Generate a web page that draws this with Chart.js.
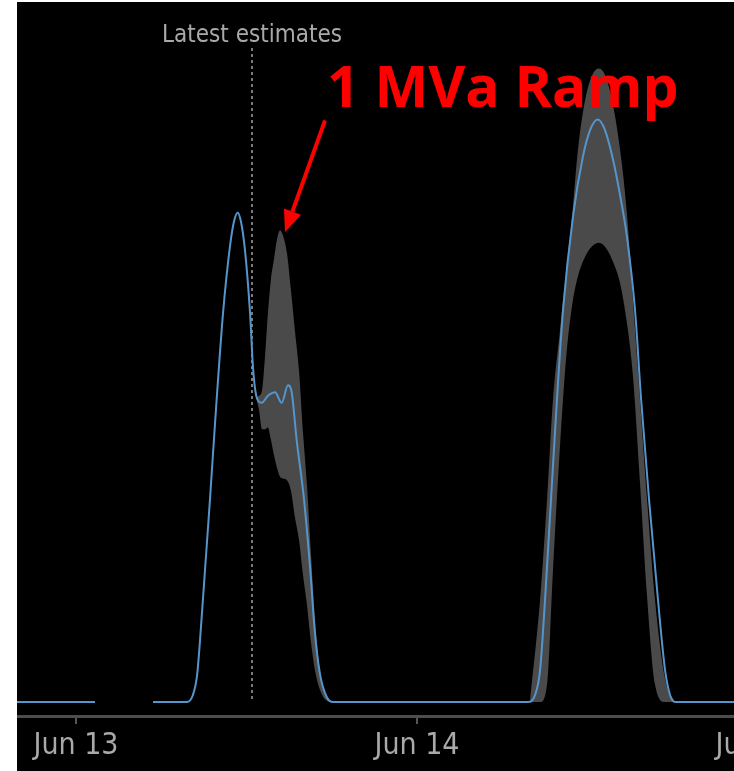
<!DOCTYPE html>
<html>
<head>
<meta charset="utf-8">
<script src="https://cdn.jsdelivr.net/npm/chart.js@4.4.1/dist/chart.umd.min.js"></script>
<style>
  html, body { margin: 0; padding: 0; background: #fff; width: 734px; height: 771px; overflow: hidden; }
  #wrap { position: absolute; left: 17px; top: 2px; width: 800px; height: 769px; background: #000; }
</style>
</head>
<body>
<div id="wrap"><canvas id="chart" width="800" height="769"></canvas></div>
<script>
// hours since Jun 13 00:00, values in MVA
const lineHours = [-4.15, 1.34, 3.4, 5.42, 7.81, 8.23, 8.52, 8.73, 9.08, 9.43, 9.85, 10.35, 10.84, 11.12, 11.38, 11.61, 11.89, 12.25, 12.46, 12.72, 13.07, 13.51, 14.01, 14.48, 14.92, 15.18, 15.53, 16.05, 16.47, 16.82, 17.17, 17.64, 18.09, 31.81, 32.31, 32.66, 33.01, 33.43, 33.85, 34.28, 34.98, 35.68, 36.18, 36.72, 37.23, 37.80, 38.29, 38.78, 39.34, 39.77, 40.33, 40.96, 41.46, 41.81, 42.16, 52.15];
const lineValues = [0, 0, null, 0, 0, 0.04, 0.15, 0.35, 0.75, 1.15, 1.66, 2.21, 2.59, 2.73, 2.78, 2.73, 2.57, 2.21, 1.90, 1.73, 1.70, 1.74, 1.76, 1.70, 1.80, 1.76, 1.49, 1.15, 0.77, 0.39, 0.16, 0.03, 0, 0, 0.04, 0.18, 0.58, 1.15, 1.72, 2.23, 2.76, 3.10, 3.25, 3.31, 3.25, 3.08, 2.88, 2.64, 2.23, 1.72, 1.15, 0.58, 0.18, 0.04, 0, 0];

const band1Hours = [12.67, 12.88, 13.09, 13.30, 13.51, 13.72, 13.94, 14.15, 14.36, 14.57, 14.85, 15.13, 15.41, 15.70, 15.98, 16.26, 16.54, 16.82, 17.17, 17.60, 18.09];
const band1Upper = [1.73, 1.74, 1.77, 1.96, 2.21, 2.40, 2.52, 2.63, 2.68, 2.65, 2.55, 2.34, 2.11, 1.88, 1.53, 1.23, 0.84, 0.47, 0.18, 0.03, 0];
const band1Lower = [1.73, 1.66, 1.55, 1.55, 1.56, 1.49, 1.40, 1.33, 1.28, 1.27, 1.26, 1.20, 1.05, 0.92, 0.72, 0.55, 0.34, 0.18, 0.07, 0.01, 0];

const band2Hours = [31.95, 32.66, 33.15, 33.57, 34.06, 34.49, 34.91, 35.33, 35.83, 36.32, 36.81, 37.30, 37.80, 38.29, 38.78, 39.20, 39.69, 40.19, 40.75, 41.46, 42.16];
const band2Upper = [0, 0.58, 1.15, 1.72, 2.11, 2.45, 2.76, 3.14, 3.42, 3.56, 3.60, 3.55, 3.39, 3.14, 2.77, 2.28, 1.72, 1.15, 0.58, 0.13, 0];
const band2Lower = [0, 0, 0.10, 0.75, 1.45, 1.95, 2.25, 2.42, 2.53, 2.59, 2.61, 2.58, 2.50, 2.38, 2.15, 1.85, 1.25, 0.60, 0.10, 0, 0];

const tickHours = [0, 24, 48];
const tickLabels = ["Jun 13", "Jun 14", "Jun 15"];
const latestHour = 12.42;
const latestLabel = "Latest estimates";
const rampLabel = "1 MVa Ramp";

const narrow = "'Liberation Sans Narrow', 'DejaVu Sans Condensed', 'Roboto', sans-serif";

function pts(xs, ys) {
  return xs.map((x, i) => ({ x: x, y: ys[i] }));
}

const annotations = {
  id: "annotations",
  beforeDatasetsDraw(chart) {
    const ctx = chart.ctx;
    const x = Math.round(chart.scales.x.getPixelForValue(latestHour));
    const yBottom = chart.scales.y.getPixelForValue(0);
    ctx.save();
    ctx.strokeStyle = "#7a7a7a";
    ctx.lineWidth = 2;
    ctx.setLineDash([3, 3]);
    ctx.beginPath();
    ctx.moveTo(x, chart.chartArea.top);
    ctx.lineTo(x, yBottom);
    ctx.stroke();
    ctx.setLineDash([]);
    ctx.fillStyle = "#a9a9a9";
    ctx.font = "24px " + narrow;
    ctx.textAlign = "center";
    ctx.textBaseline = "alphabetic";
    ctx.fillText(latestLabel, x, chart.chartArea.top - 6);
    ctx.restore();
  },
  afterDraw(chart) {
    const ctx = chart.ctx;
    // arrow points at the top of the first uncertainty band
    const peak = band1Upper.indexOf(Math.max(...band1Upper));
    const tipX = chart.scales.x.getPixelForValue(band1Hours[peak]) + 5;
    const tipY = chart.scales.y.getPixelForValue(band1Upper[peak]) + 2;
    const tailX = tipX + 40, tailY = tipY - 112;
    const ang = Math.atan2(tipY - tailY, tipX - tailX);
    const headLen = 22, headW = 9;
    const bx = tipX - headLen * Math.cos(ang), by = tipY - headLen * Math.sin(ang);
    ctx.save();
    ctx.strokeStyle = "#ff0000";
    ctx.fillStyle = "#ff0000";
    ctx.lineWidth = 4;
    ctx.beginPath();
    ctx.moveTo(tailX, tailY);
    ctx.lineTo(bx, by);
    ctx.stroke();
    ctx.beginPath();
    ctx.moveTo(tipX, tipY);
    ctx.lineTo(bx + headW * Math.sin(ang), by - headW * Math.cos(ang));
    ctx.lineTo(bx - headW * Math.sin(ang), by + headW * Math.cos(ang));
    ctx.closePath();
    ctx.fill();
    ctx.font = "bold 57px 'Open Sans', sans-serif";
    ctx.textAlign = "left";
    ctx.textBaseline = "alphabetic";
    ctx.fillText(rampLabel, tipX + 42, tipY - 125);
    ctx.restore();
  }
};

new Chart(document.getElementById("chart"), {
  type: "line",
  data: {
    datasets: [
      {
        data: pts(lineHours, lineValues),
        borderColor: "#5496cc",
        borderWidth: 2,
        pointRadius: 0,
        fill: false,
        cubicInterpolationMode: "monotone",
        order: 0
      },
      {
        data: pts(band1Hours, band1Lower),
        borderWidth: 0,
        pointRadius: 0,
        fill: false,
        cubicInterpolationMode: "monotone",
        order: 2
      },
      {
        data: pts(band1Hours, band1Upper),
        borderWidth: 0,
        pointRadius: 0,
        backgroundColor: "#4a4a4a",
        fill: 1,
        cubicInterpolationMode: "monotone",
        order: 1
      },
      {
        data: pts(band2Hours, band2Lower),
        borderWidth: 0,
        pointRadius: 0,
        fill: false,
        cubicInterpolationMode: "monotone",
        order: 2
      },
      {
        data: pts(band2Hours, band2Upper),
        borderWidth: 0,
        pointRadius: 0,
        backgroundColor: "#4a4a4a",
        fill: 3,
        cubicInterpolationMode: "monotone",
        order: 1
      }
    ]
  },
  options: {
    responsive: false,
    animation: false,
    events: [],
    layout: { padding: { top: 46, left: 0, right: 0, bottom: 0 } },
    plugins: { legend: { display: false }, tooltip: { enabled: false } },
    scales: {
      x: {
        type: "linear",
        min: -4.15,
        max: 52.15,
        afterBuildTicks: s => { s.ticks = tickHours.map(v => ({ value: v })); },
        afterFit: s => { s.height = 55; },
        ticks: {
          autoSkip: false,
          maxRotation: 0,
          padding: 4,
          color: "#a9a9a9",
          font: { family: narrow, size: 30 },
          callback: v => tickLabels[tickHours.indexOf(v)]
        },
        grid: { drawOnChartArea: false, drawTicks: true, tickLength: 8, color: "#555", lineWidth: 2 },
        border: { color: "#4d4d4d", width: 3 }
      },
      y: {
        display: false,
        min: -0.0795,
        max: 3.716
      }
    }
  },
  plugins: [annotations]
});
</script>
</body>
</html>
